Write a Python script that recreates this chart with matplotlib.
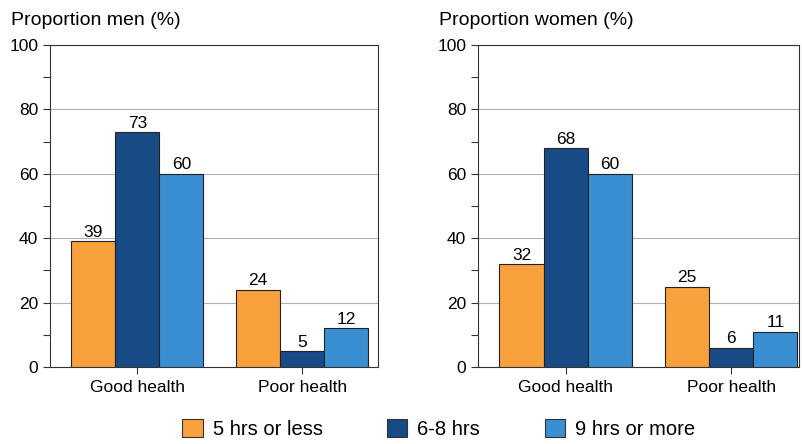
import matplotlib.pyplot as plt
import numpy as np
from matplotlib.ticker import MultipleLocator
from matplotlib.patches import Patch

plt.rcParams['font.family'] = ['Liberation Sans', 'DejaVu Sans']

# Data
categories = ['Good health', 'Poor health']
series = ['5 hrs or less', '6-8 hrs', '9 hrs or more']
men = [[39, 24], [73, 5], [60, 12]]
women = [[32, 25], [68, 6], [60, 11]]
titles = ['Proportion men (%)', 'Proportion women (%)']

colors = ['#F9A23D', '#184A85', '#3A8FD3']

fig = plt.figure(figsize=(8.02, 4.44), dpi=100)
ax1 = fig.add_axes([0.0623, 0.1734, 0.4090, 0.7252])
ax2 = fig.add_axes([0.5960, 0.1734, 0.4003, 0.7252])

x = np.arange(len(categories))
width = 0.267

for ax, data, title, xlim in [(ax1, men, titles[0], (-0.53, 1.46)),
                              (ax2, women, titles[1], (-0.53, 1.41))]:
    for i, (vals, col) in enumerate(zip(data, colors)):
        bars = ax.bar(x + (i - 1) * width, vals, width, color=col,
                      edgecolor='#222222', linewidth=0.8, zorder=3)
        ax.bar_label(bars, labels=[str(v) for v in vals], padding=1, fontsize=12.5)
    ax.set_ylim(0, 100)
    ax.set_xlim(*xlim)
    ax.set_xticks(x)
    ax.set_xticklabels(categories, fontsize=12.5)
    ax.yaxis.set_major_locator(MultipleLocator(20))
    ax.yaxis.set_minor_locator(MultipleLocator(10))
    ax.tick_params(axis='y', labelsize=12.5, length=5, width=0.8, color='#333333')
    ax.tick_params(axis='y', which='minor', length=5, width=0.8, color='#333333')
    ax.tick_params(axis='x', length=5, width=0.8, color='#333333', pad=4)
    ax.grid(axis='y', color='#b0b0b0', linewidth=0.8, zorder=0)
    for s in ax.spines.values():
        s.set_color('#333333')
        s.set_linewidth(0.8)
    ax.text(-0.12, 1.05, title, transform=ax.transAxes, fontsize=14,
            ha='left', va='bottom')

handles = [Patch(facecolor=c, edgecolor='#333333', linewidth=0.8) for c in colors]
fig.legend(handles, series, loc='lower center', ncol=3, frameon=False,
           fontsize=14.5, bbox_to_anchor=(0.547, -0.03), columnspacing=3.2,
           handlelength=1.0, handleheight=1.0, handletextpad=0.5)

plt.savefig('out.png', dpi=100)
